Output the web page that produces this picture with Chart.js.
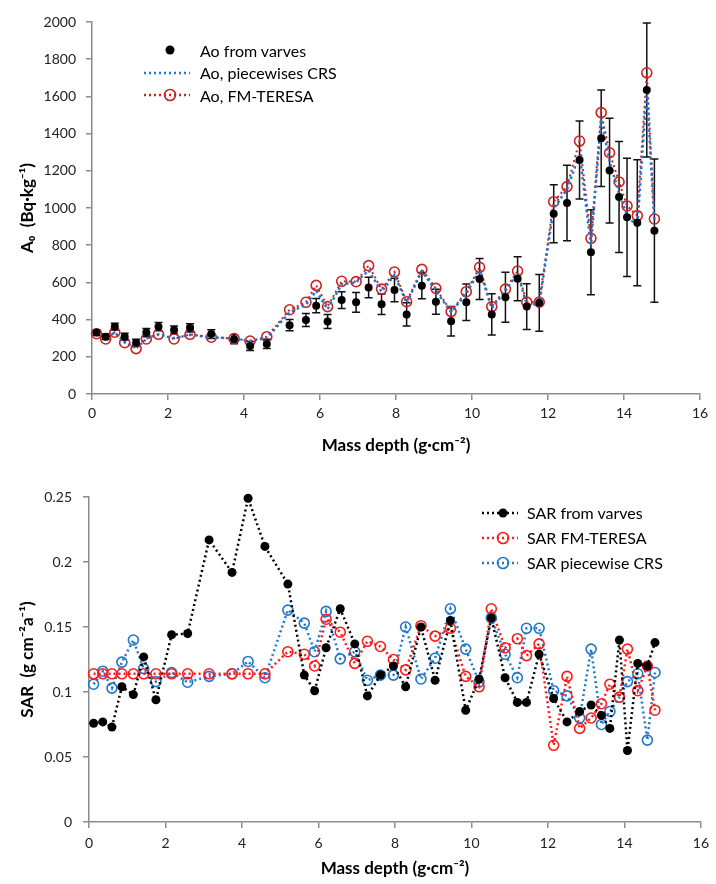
<!DOCTYPE html>
<html>
<head>
<meta charset="utf-8">
<script src="https://cdn.jsdelivr.net/npm/chart.js@4.4.1/dist/chart.umd.min.js"></script>
<style>
  body { margin: 0; background: #fff; width: 716px; height: 884px; position: relative; overflow: hidden; font-family: Lato, sans-serif; }
  #topWrap { position: absolute; left: 0; top: 0; width: 716px; height: 456px; }
  #botWrap { position: absolute; left: 0; top: 456px; width: 716px; height: 428px; }
  .legend { position: absolute; font-size: 16px; color: #000; }
  .legend div { display: flex; align-items: center; white-space: nowrap; }
  .legend svg { flex: none; }
</style>
</head>
<body>
<div id="topWrap"><canvas id="topChart" width="716" height="456"></canvas></div>
<div id="botWrap"><canvas id="botChart" width="716" height="428"></canvas></div>

<div class="legend" id="topLegend" style="left:142px; top:39px;"></div>
<div class="legend" id="botLegend" style="left:480px; top:500px;"></div>

<script>
// mass depth (g cm-2) of each slice, shared by both panels
const depth = [0.12, 0.36, 0.6, 0.86, 1.16, 1.43, 1.75, 2.16, 2.58, 3.14, 3.74, 4.16, 4.6,
  5.2, 5.63, 5.9, 6.2, 6.57, 6.95, 7.28, 7.62, 7.96, 8.28, 8.68, 9.05, 9.45, 9.85, 10.2,
  10.52, 10.88, 11.2, 11.44, 11.77, 12.15, 12.5, 12.83, 13.13, 13.4, 13.62, 13.87, 14.08,
  14.35, 14.6, 14.8];

// top panel: A0 (Bq/kg)
const aoVarves = [330, 308, 362, 308, 276, 330, 362, 344, 356, 322, 294, 258, 269,
  370, 398, 475, 390, 505, 493, 573, 482, 559, 428, 582, 496, 391, 493, 618,
  428, 520, 620, 470, 490, 969, 1027, 1258, 762, 1375, 1201, 1059, 950,
  921, 1634, 878];
const aoVarvesErr = [15, 15, 18, 18, 18, 22, 22, 22, 22, 24, 24, 24, 25,
  30, 35, 38, 38, 45, 53, 55, 55, 63, 63, 70, 67, 79, 98, 110,
  111, 134, 118, 123, 152, 156, 203, 210, 228, 260, 282, 298, 318,
  339, 360, 385];
const aoCRS = [320, 300, 330, 280, 250, 300, 320, 300, 318, 305, 298, 285, 300,
  440, 480, 555, 455, 590, 600, 665, 550, 640, 490, 660, 555, 440, 540, 665,
  460, 555, 650, 480, 485, 1000, 1100, 1290, 800, 1480, 1250, 1080, 960,
  900, 1640, 920];
const aoTeresa = [324, 296, 332, 276, 244, 296, 321, 296, 321, 305, 298, 285, 308,
  453, 493, 584, 470, 606, 604, 690, 564, 656, 496, 670, 568, 443, 550, 681,
  470, 564, 661, 494, 494, 1034, 1115, 1360, 837, 1513, 1297, 1140, 1011,
  959, 1727, 941];

// bottom panel: SAR (g cm-2 a-1)
const sarVarves = [0.076, 0.077, 0.073, 0.104, 0.098, 0.127, 0.094, 0.144, 0.145, 0.217, 0.192, 0.249, 0.212,
  0.183, 0.113, 0.101, 0.134, 0.164, 0.137, 0.097, 0.113, 0.120, 0.104, 0.150, 0.109, 0.155, 0.086, 0.110,
  0.157, 0.111, 0.092, 0.092, 0.129, 0.095, 0.077, 0.085, 0.090, 0.082, 0.072, 0.140, 0.055,
  0.122, 0.120, 0.138];
const sarTeresa = [0.114, 0.114, 0.114, 0.114, 0.114, 0.114, 0.114, 0.114, 0.114, 0.114, 0.114, 0.114, 0.114,
  0.131, 0.129, 0.120, 0.156, 0.146, 0.122, 0.139, 0.135, 0.125, 0.117, 0.151, 0.143, 0.149, 0.112, 0.104,
  0.164, 0.134, 0.141, 0.128, 0.137, 0.059, 0.112, 0.072, 0.080, 0.091, 0.106, 0.096, 0.133,
  0.101, 0.120, 0.086];
const sarCRS = [0.106, 0.116, 0.103, 0.123, 0.140, 0.118, 0.108, 0.115, 0.1075, 0.112, 0.114, 0.1235, 0.111,
  0.163, 0.153, 0.131, 0.162, 0.1255, 0.131, 0.109, 0.113, 0.113, 0.150, 0.110, 0.126, 0.164, 0.133, 0.1075,
  0.157, 0.129, 0.111, 0.149, 0.149, 0.101, 0.097, 0.080, 0.133, 0.075, 0.085, 0.096, 0.108,
  0.114, 0.063, 0.115];

const AXIS = '#8c8c8c';
const BLUE = '#1f77c9';
const DARKRED = '#cc2222';
const RED = '#ff1a1a';
const tickFont = {family: 'Lato', size: 14};
const titleFont = {family: 'Lato', size: 17, weight: 'bold'};

const pts = ys => depth.map((x, i) => ({x, y: ys[i]}));

function xAxis(title, pad, titlePad) {
  return {
    type: 'linear', min: 0, max: 16,
    ticks: {stepSize: 2, color: '#222', font: tickFont, padding: pad},
    grid: {drawOnChartArea: false, tickLength: 6, color: AXIS, lineWidth: 1.5},
    border: {color: AXIS, width: 1.5},
    title: {display: true, text: title, color: '#000', font: titleFont, padding: {top: 0, bottom: titlePad}},
    afterFit: s => { s.height = 62; }
  };
}

const errorBars = {
  id: 'errorBars',
  beforeDatasetsDraw(chart) {
    const {ctx, scales: {x, y}} = chart;
    ctx.save();
    ctx.strokeStyle = '#111';
    ctx.lineWidth = 1.5;
    depth.forEach((d, i) => {
      const px = x.getPixelForValue(d);
      const hi = y.getPixelForValue(aoVarves[i] + aoVarvesErr[i]);
      const lo = y.getPixelForValue(aoVarves[i] - aoVarvesErr[i]);
      ctx.beginPath();
      ctx.moveTo(px, lo); ctx.lineTo(px, hi);
      ctx.moveTo(px - 4, lo); ctx.lineTo(px + 4, lo);
      ctx.moveTo(px - 4, hi); ctx.lineTo(px + 4, hi);
      ctx.stroke();
    });
    ctx.restore();
  }
};

new Chart(document.getElementById('topChart'), {
  type: 'scatter',
  data: {
    datasets: [
      {label: 'Ao from varves', data: pts(aoVarves), showLine: false, clip: 10,
        pointRadius: 4, pointBackgroundColor: '#000', pointBorderColor: '#000', pointBorderWidth: 0},
      {label: 'Ao, piecewises CRS', data: pts(aoCRS), showLine: true, pointRadius: 0, clip: 10,
        borderColor: BLUE, borderWidth: 2.5, borderDash: [2.5, 3]},
      {label: 'Ao, FM-TERESA', data: pts(aoTeresa), showLine: true, clip: 10,
        borderColor: DARKRED, borderWidth: 2, borderDash: [2, 3],
        pointRadius: 5, pointBackgroundColor: 'rgba(0,0,0,0)', pointBorderColor: DARKRED, pointBorderWidth: 1.6}
    ]
  },
  options: {
    responsive: false, animation: false, devicePixelRatio: 1,
    layout: {padding: {top: 22, right: 16, left: 0, bottom: 0}},
    plugins: {legend: {display: false}, tooltip: {enabled: false}},
    scales: {
      x: xAxis('Mass depth (g·cm⁻²)', 5, 0),
      y: {
        min: 0, max: 2000,
        ticks: {stepSize: 200, color: '#222', font: tickFont, padding: 10, callback: v => String(v)},
        grid: {drawOnChartArea: false, tickLength: 6, color: AXIS, lineWidth: 1.5},
        border: {color: AXIS, width: 1.5},
        title: {display: true, text: 'A₀  (Bq·kg⁻¹)', color: '#000', font: titleFont, padding: {top: 17, bottom: 0}},
        afterFit: s => { s.width = 92; }
      }
    }
  },
  plugins: [errorBars]
});

new Chart(document.getElementById('botChart'), {
  type: 'scatter',
  data: {
    datasets: [
      {label: 'SAR from varves', data: pts(sarVarves), showLine: true, clip: 10,
        borderColor: '#000', borderWidth: 2.5, borderDash: [2, 3],
        pointRadius: 4.5, pointBackgroundColor: '#000', pointBorderColor: '#000', pointBorderWidth: 0},
      {label: 'SAR FM-TERESA', data: pts(sarTeresa), showLine: true, clip: 10,
        borderColor: RED, borderWidth: 2.5, borderDash: [2, 3],
        pointRadius: 5, pointBackgroundColor: 'rgba(0,0,0,0)', pointBorderColor: RED, pointBorderWidth: 1.6},
      {label: 'SAR piecewise CRS', data: pts(sarCRS), showLine: true, clip: 10,
        borderColor: BLUE, borderWidth: 2.5, borderDash: [2, 3],
        pointRadius: 5, pointBackgroundColor: 'rgba(0,0,0,0)', pointBorderColor: BLUE, pointBorderWidth: 1.6}
    ]
  },
  options: {
    responsive: false, animation: false, devicePixelRatio: 1,
    layout: {padding: {top: 41, right: 9, left: 0, bottom: 0}},
    plugins: {legend: {display: false}, tooltip: {enabled: false}},
    scales: {
      x: xAxis('Mass depth (g·cm⁻²)', 7, 5),
      y: {
        min: 0, max: 0.25,
        ticks: {stepSize: 0.05, color: '#222', font: tickFont, padding: 11,
          callback: v => String(+v.toFixed(2))},
        grid: {drawOnChartArea: false, tickLength: 6, color: AXIS, lineWidth: 1.5},
        border: {color: AXIS, width: 1.5},
        title: {display: true, text: 'SAR  (g cm⁻²a⁻¹)', color: '#000', font: titleFont, padding: {top: 17, bottom: 0}},
        afterFit: s => { s.width = 89; }
      }
    }
  }
});

// HTML legends
function icon(w, color, marker, lineOn) {
  const mid = w / 2 + 3;
  let s = `<svg width="${w}" height="20" viewBox="0 0 ${w} 20">`;
  if (lineOn) s += `<line x1="2" y1="10" x2="${w - 2}" y2="10" stroke="${color}" stroke-width="2.5" stroke-dasharray="2 3"/>`;
  if (marker === 'dot') s += `<circle cx="${mid}" cy="10" r="4.5" fill="#000"/>`;
  if (marker === 'ring') s += `<circle cx="${mid}" cy="10" r="5.5" fill="none" stroke="${color}" stroke-width="1.6"/>`;
  return s + '</svg>';
}
function legend(el, rowH, w, gap, items) {
  el.innerHTML = items.map(it =>
    `<div style="height:${rowH}px">${icon(w, it.color, it.marker, it.line)}<span style="margin-left:${gap}px">${it.text}</span></div>`
  ).join('');
}
legend(document.getElementById('topLegend'), 22.5, 50, 8, [
  {text: 'Ao from varves', color: '#000', marker: 'dot', line: false},
  {text: 'Ao, piecewises CRS', color: BLUE, marker: null, line: true},
  {text: 'Ao, FM-TERESA', color: DARKRED, marker: 'ring', line: true}
]);
legend(document.getElementById('botLegend'), 25, 40, 7, [
  {text: 'SAR from varves', color: '#000', marker: 'dot', line: true},
  {text: 'SAR FM-TERESA', color: RED, marker: 'ring', line: true},
  {text: 'SAR piecewise CRS', color: BLUE, marker: 'ring', line: true}
]);
</script>
</body>
</html>
